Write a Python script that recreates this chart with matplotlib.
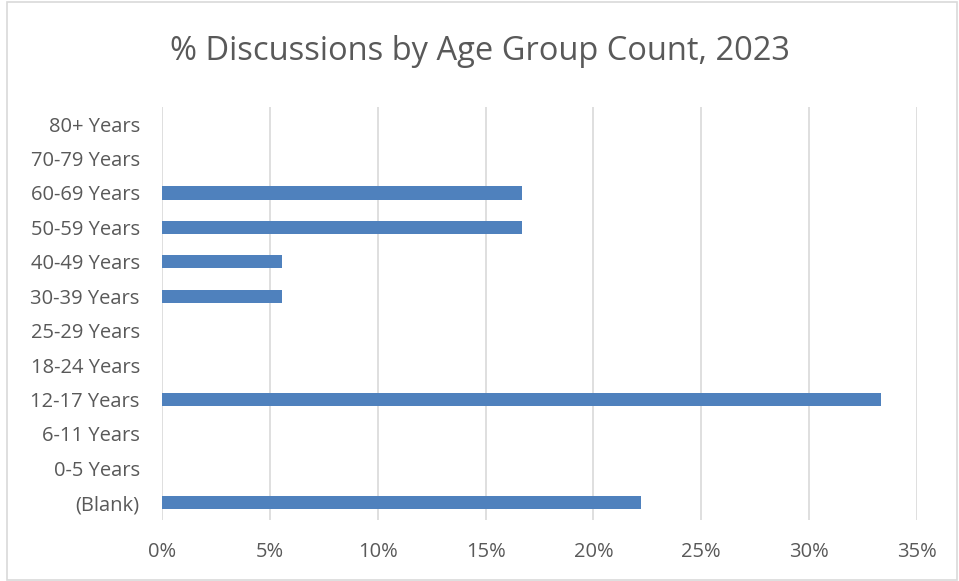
import matplotlib.pyplot as plt
from matplotlib.patches import Rectangle
from matplotlib.ticker import PercentFormatter

# data (bottom to top as shown)
groups = ['(Blank)', '0-5 Years', '6-11 Years', '12-17 Years', '18-24 Years',
          '25-29 Years', '30-39 Years', '40-49 Years', '50-59 Years',
          '60-69 Years', '70-79 Years', '80+ Years']
share = [22.22, 0, 0, 33.33, 0, 0, 5.56, 5.56, 16.67, 16.67, 0, 0]
xticks = [0, 5, 10, 15, 20, 25, 30, 35]

plt.rcParams['font.family'] = ['Open Sans', 'DejaVu Sans']

fig = plt.figure(figsize=(9.59, 5.81), dpi=100)
ax = fig.add_axes([0.1689, 0.105, 0.7873, 0.711])

ax.barh(range(len(groups)), share, height=0.38, color='#4f81bd', zorder=3)

ax.set_xlim(0, 35)
ax.set_ylim(-0.5, len(groups) - 0.5)
ax.set_xticks(xticks)
ax.xaxis.set_major_formatter(PercentFormatter(decimals=0))
ax.set_yticks(range(len(groups)))
ax.set_yticklabels(groups)
ax.grid(axis='x', color='#d9d9d9', linewidth=1.2, zorder=0)
ax.tick_params(length=0, labelsize=14.5, colors='#595959')
ax.tick_params(axis='y', pad=16)
ax.tick_params(axis='x', pad=16)
for s in ax.spines.values():
    s.set_visible(False)

fig.text(0.5, 0.912, '% Discussions by Age Group Count, 2023', ha='center',
         va='center', fontsize=23.5, color='#595959')

fig.patches.append(Rectangle((0.007, 0.002), 0.991, 0.995, transform=fig.transFigure,
                             fill=False, edgecolor='#d9d9d9', linewidth=1.2))

fig.savefig('out.png', dpi=100, facecolor='white')
